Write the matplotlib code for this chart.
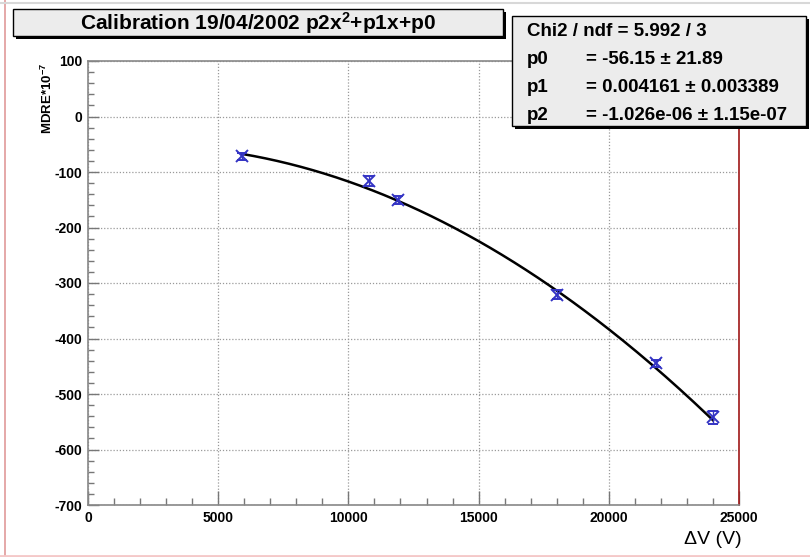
#!/usr/bin/python3
import matplotlib.pyplot as plt
import numpy as np
from matplotlib.patches import Rectangle
from matplotlib.lines import Line2D
from matplotlib.ticker import MultipleLocator

plt.rcParams['font.family'] = ['Liberation Sans', 'DejaVu Sans']
plt.rcParams['font.weight'] = 'bold'
plt.rcParams['axes.unicode_minus'] = False
plt.rcParams['mathtext.default'] = 'regular'

# Data
delta_v = [5900, 10800, 11900, 18000, 21800, 24000]
mdre = [-72, -117, -150, -321, -445, -542]
mdre_err = [6, 9, 7, 8, 7, 12]

# fit parameters as printed in the stats box
fit_p0 = -56.15
fit_p1 = 0.004161
fit_p2 = -1.026e-06
stats_names = ['p0', 'p1', 'p2']
stats_values = ['= -56.15 ± 21.89',
                '= 0.004161 ± 0.003389',
                '= -1.026e-06 ± 1.15e-07']
chi2_text = 'Chi2 / ndf = 5.992 / 3'
title_text = 'Calibration 19/04/2002 p2x$^{2}$+p1x+p0'

W, H = 810, 557


def px(x, y):
    # pixel (top-left origin) -> figure fraction
    return x / W, 1 - y / H


fig = plt.figure(figsize=(8.1, 5.57), dpi=100)
fig.patch.set_facecolor('white')
ax = fig.add_axes([88 / W, 1 - 505 / H, (739 - 88) / W, (505 - 61) / H])

# fit curve
xs = np.linspace(min(delta_v), max(delta_v), 200)
ax.plot(xs, np.polyval([fit_p2, fit_p1, fit_p0], xs), color='black', lw=1.8, zorder=3)

# data with errors
ax.errorbar(delta_v, mdre, yerr=mdre_err, fmt='x', color='#3434c4', ms=8.5, mew=1.4,
            elinewidth=1.0, capsize=3.5, capthick=1.0, zorder=4)

ax.set_xlim(0, 25000)
ax.set_ylim(-700, 100)
ax.xaxis.set_major_locator(MultipleLocator(5000))
ax.xaxis.set_minor_locator(MultipleLocator(1000))
ax.yaxis.set_major_locator(MultipleLocator(100))
ax.yaxis.set_minor_locator(MultipleLocator(20))
ax.grid(True, which='major', linestyle=(0, (1, 1.5)), color='#9a9a9a', lw=0.9)
ax.set_axisbelow(True)

ax.tick_params(which='both', direction='in', color='#777777', top=False, right=False)
ax.tick_params(axis='y', which='major', length=8, width=1, pad=4, labelsize=10)
ax.tick_params(axis='y', which='minor', length=4, width=1)
ax.tick_params(axis='x', which='major', length=10, width=1, pad=4.5, labelsize=10)
ax.tick_params(axis='x', which='minor', length=5, width=1)

for side in ('left', 'bottom', 'top'):
    ax.spines[side].set_color('#888888')
    ax.spines[side].set_linewidth(1.2)
ax.spines['right'].set_color('#a01818')
ax.spines['right'].set_linewidth(1.2)

fig.text(*px(47, 63), 'MDRE*10$^{-7}$', rotation=90, ha='center', va='top',
         fontsize=9.5, fontweight='bold')
fig.text(*px(742, 540), 'ΔV (V)', ha='right', va='center', fontsize=14,
         fontweight='normal')


def shadow_box(x0, y0, x1, y1, off=3):
    fx0, fy1 = px(x0, y0)
    fx1, fy0 = px(x1, y1)
    dx, dy = off / W, off / H
    fig.add_artist(Rectangle((fx0 + dx, fy0 - dy), fx1 - fx0, fy1 - fy0,
                             transform=fig.transFigure, facecolor='black',
                             edgecolor='black', lw=0, zorder=10))
    fig.add_artist(Rectangle((fx0, fy0), fx1 - fx0, fy1 - fy0,
                             transform=fig.transFigure, facecolor='#ececec',
                             edgecolor='black', lw=1.0, zorder=11))


# title box
shadow_box(13, 9, 503, 36)
fig.text(*px(258, 23), title_text, ha='center', va='center', fontsize=15, zorder=12)

# stats box
shadow_box(512, 16, 806, 126)
fig.text(*px(527, 32), chi2_text, ha='left', va='center', fontsize=13.5, zorder=12)
for i, (name, val) in enumerate(zip(stats_names, stats_values)):
    yy = 60 + 27.5 * i
    fig.text(*px(527, yy), name, ha='left', va='center', fontsize=13.5, zorder=12)
    fig.text(*px(586, yy), val, ha='left', va='center', fontsize=13.5, zorder=12)

# canvas frame lines
fig.add_artist(Line2D([5 / W, 5 / W], [0, 1], transform=fig.transFigure,
                      color='#e09a9a', lw=1.2))
fig.add_artist(Line2D([0, 1], [1.5 / H, 1.5 / H], transform=fig.transFigure,
                      color='#f4c8c8', lw=2))
fig.add_artist(Line2D([0, 1], [1 - 3 / H, 1 - 3 / H], transform=fig.transFigure,
                      color='#d8d8d8', lw=1.5))

fig.savefig('out.png', dpi=100)
